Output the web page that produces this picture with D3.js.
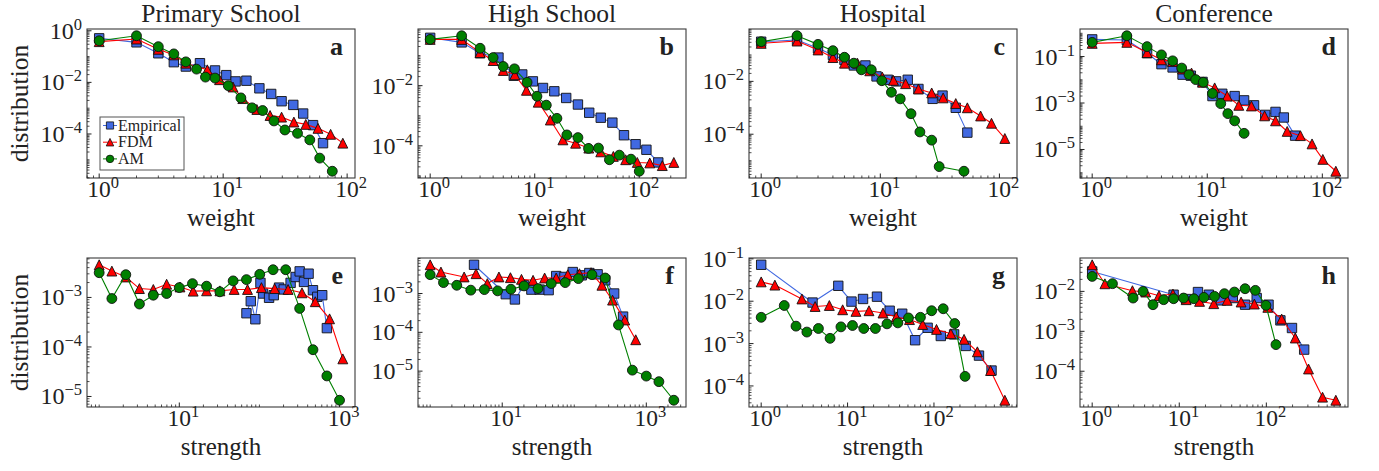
<!DOCTYPE html>
<html><head><meta charset="utf-8">
<script src="https://cdn.jsdelivr.net/npm/d3@7"></script>
<style>body{margin:0;background:#fff}svg{display:block}</style>
</head><body><svg id="chart" width="1379" height="471"></svg>
<script>
// ---------- data: [x, y] pairs per series ----------
const aEmp=[[1,0.51],[2,0.356],[3,0.134],[4,0.0605],[5,0.041],[6.5,0.0554],[8.6,0.029],[10.6,0.0191],[12.6,0.0109],[15.4,0.0116],[19.6,0.00588],[24.4,0.00356],[29.6,0.00186],[36.8,0.00134],[44.2,6.2e-4],[53.1,2.2e-4],[63.9,4.4e-5]];
const aFdm=[[1,0.378],[2,0.478],[3,0.191],[4,0.116],[5,0.0554],[7.45,0.0307],[9.35,0.0127],[12.0,0.00662],[14.4,0.00235],[18.7,8.9e-4],[23.9,5.2e-4],[29.6,4.5e-4],[37.2,2.9e-4],[46.4,2.35e-4],[58.2,1.65e-4],[73.6,9.7e-5],[92.3,4.4e-5]];
const aAm=[[1,0.41],[2,0.64],[3,0.242],[4,0.127],[5,0.0624],[6.1,0.0326],[7.2,0.016],[8.6,0.0147],[11.0,0.00745],[13.9,0.0025],[17.1,0.00103],[20.8,8.1e-4],[25.7,3.2e-4],[31.5,1.43e-4],[39.8,1.06e-4],[50,5.9e-5],[60.1,1.16e-5],[75.9,3.6e-6]];

const bEmp=[[1,0.39],[2,0.275],[3,0.119],[4.5,0.086],[6.3,0.0214],[7.6,0.0236],[9.6,0.0139],[12.0,0.00838],[15.4,0.0065],[20,0.0039],[25.9,0.00236],[33.2,0.00126],[42.8,8.6e-4],[55.3,5.9e-4],[71.4,2.25e-4],[92.3,1.13e-4],[117,7.4e-5],[152,2.8e-5]];
const bFdm=[[1,0.345],[2,0.345],[3,0.126],[4,0.0684],[5,0.032],[6.45,0.023],[8.33,0.007],[10.8,0.00282],[14.1,7.2e-4],[18.6,1.58e-4],[24.6,1.22e-4],[32.9,8.4e-5],[42.8,6.3e-5],[56.5,4.45e-5],[74.1,3.45e-5],[95.7,2.8e-5],[126,2.7e-5],[166,2.2e-5],[214,2.8e-5]];
const bAm=[[1,0.345],[2,0.456],[3,0.175],[4,0.086],[5,0.0434],[6.4,0.0363],[8.45,0.0129],[10.5,0.00445],[12.9,0.00225],[16.3,8.2e-4],[20.3,2.3e-4],[25.9,1.88e-4],[32.7,8.2e-5],[40.7,8.4e-5],[51.8,3.45e-5],[64.5,4.9e-5],[83.3,3.6e-5],[100,1.43e-5]];

const cEmp=[[1,0.316],[2,0.365],[3,0.178],[4,0.1],[5,0.065],[6,0.04],[7.5,0.04],[9.3,0.0154],[11.6,0.0115],[13.6,0.01],[17,0.0115],[20.9,0.00516],[27.5,0.00218],[33.3,0.0029],[43,0.001],[53.8,1.15e-4]];
const cFdm=[[1,0.274],[2,0.335],[3,0.154],[4,0.0794],[5,0.0487],[6.43,0.0487],[8.15,0.0251],[10.4,0.0145],[12.9,0.0109],[16.3,0.00818],[20.9,0.00516],[27,0.00365],[33.7,0.00237],[43,0.00145],[53.8,0.001],[69.5,4.9e-4],[85.8,2.6e-4],[111,6.9e-5]];
const cAm=[[1,0.316],[2,0.531],[3,0.251],[4,0.145],[5,0.0818],[6,0.0487],[6.94,0.0274],[8.4,0.0274],[10.3,0.0106],[12.4,0.00387],[14.7,0.00218],[18.1,5.96e-4],[21.5,1.22e-4],[27,5.96e-5],[31.2,5.96e-6],[50.4,3.98e-6]];

const dEmp=[[1,0.547],[2,0.512],[3,0.139],[4,0.047],[5,0.034],[6.1,0.0166],[7.2,0.015],[9.1,0.0081],[11.1,0.00199],[13.5,0.0025],[17.3,0.00199],[20.9,0.0013],[25.5,7.96e-4],[31.9,3.08e-4],[39.2,4.14e-4],[46.3,2.38e-4],[58,3.94e-5]];
const dFdm=[[1,0.369],[2,0.407],[3,0.148],[4,0.0722],[5,0.0612],[6.1,0.0289],[7.3,0.0195],[9.1,0.00783],[11.6,0.00449],[14.9,0.00199],[18.8,7.96e-4],[24.2,7.45e-4],[31.5,2.8e-4],[39.2,1.71e-4],[49.5,6.0e-5],[64.5,3.94e-5],[81.4,1.74e-5],[101,3.75e-6],[131,1.16e-6]];
const dAm=[[1,0.407],[2,0.783],[3,0.267],[4,0.118],[5,0.0654],[6,0.0319],[6.94,0.0166],[7.93,0.0102],[9.23,0.00783],[11.1,0.00258],[13.1,9.4e-4],[15.1,3.5e-4],[17.3,1.71e-4],[20.9,4.96e-5]];

const eEmp=[[68.9,4.8e-4],[78,8.4e-4],[89,3.63e-4],[103,0.00197],[111,0.0012],[132,9.85e-4],[151,0.00111],[176,0.00158],[201,0.00145],[245,0.00197],[283,0.00259],[318,0.00336],[360,0.00206],[411,0.00302],[466,0.0014],[527,0.00103],[608,0.00111],[695,2.4e-4]];
const eFdm=[[1,0.00457],[1.44,0.00341],[2.15,0.00259],[3.18,0.00151],[4.74,0.00145],[6.95,0.00185],[10.2,0.00163],[14.9,0.00134],[21.9,0.00136],[32.1,0.00136],[48.4,0.00145],[71,0.00145],[106,0.00158],[155,0.00151],[228,0.00145],[340,0.00124],[498,8.2e-4],[751,3.7e-4],[1099,5.75e-5]];
const eAm=[[1,0.00316],[1.44,9.5e-4],[2.15,0.00288],[3.18,7.36e-4],[4.74,0.00111],[6.95,0.0012],[10,0.00158],[14.6,0.0019],[21.9,0.00169],[32.1,0.0013],[47,0.00216],[68.9,0.00229],[101,0.00293],[148,0.00363],[213,0.00363],[318,6.0e-4],[466,8.8e-5],[695,2.6e-5],[1000,8.4e-6]];

const fEmp=[[4.06,0.0055],[11.2,9.6e-4],[15,7.03e-4],[20.1,0.00163],[25.4,0.00126],[33.1,0.00126],[44.1,0.00122],[56.1,0.00282],[73.1,0.00267],[95.3,0.00357],[127,0.00294],[162,0.00337],[211,0.00312],[269,0.00219],[358,0.001],[476,2.54e-4]];
const fFdm=[[1,0.0055],[1.41,0.00357],[2.96,0.00267],[4.33,0.00324],[6.21,0.0018],[9,0.00267],[13,0.00256],[18.5,0.00232],[26.8,0.00219],[38.8,0.00251],[56.1,0.00251],[81.3,0.00305],[118,0.00324],[171,0.00344],[242,0.00163],[340,6.76e-4],[502,2.08e-4],[713,6.44e-5]];
const fAm=[[1,0.00306],[1.53,0.00191],[2.34,0.00163],[3.66,0.00122],[5.65,0.00126],[8.63,0.00117],[13.2,0.00129],[20.1,0.00157],[31.4,0.00134],[47.9,0.0018],[74.8,0.00191],[114,0.00242],[176,0.00306],[269,0.00251],[411,1.55e-4],[641,1.06e-5],[1000,7.45e-6],[1496,5.35e-6],[2410,1.78e-6]];

const gEmp=[[1,0.0725],[3.93,0.0093],[7.81,0.0231],[11.1,0.0098],[15.1,0.0113],[21.9,0.0128],[30.7,0.00596],[42.9,0.00507],[60.5,0.0012],[84.5,0.00236],[120,0.00151],[171,0.00165],[233,8.8e-4],[332,5.2e-4],[464,2.31e-4]];
const gFdm=[[1,0.0286],[1.44,0.024],[2.96,0.0113],[4.21,0.0075],[6.15,0.00792],[8.77,0.00628],[12.5,0.00575],[17.7,0.00596],[25.7,0.00526],[36.6,0.00425],[52.1,0.00368],[74.1,0.00282],[107,0.00216],[157,0.00171],[223,0.00126],[318,6.4e-4],[452,2.31e-4],[661,4.6e-5]];
const gAm=[[1,0.00417],[1.85,0.00792],[2.53,0.00258],[3.38,0.00187],[4.6,0.00227],[6.27,0.00133],[8.38,0.00248],[11.4,0.00267],[15.4,0.00227],[21,0.00227],[28.6,0.00292],[38.2,0.00308],[50.7,0.00403],[69.7,0.00417],[94,0.00596],[128,0.00664],[174,0.00297],[229,1.68e-4]];

const hEmp=[[1,0.0316],[8.61,0.00826],[12,0.00643],[16.4,0.00962],[21.9,0.00826],[30.3,0.00596],[41.2,0.00681],[57,0.00464],[77.5,0.00681],[106,0.00464],[145,0.00188],[197,0.00121],[272,3.48e-4]];
const hFdm=[[1,0.0464],[1.4,0.0155],[2.9,0.0104],[4.12,0.00962],[5.85,0.0078],[8.46,0.00858],[12,0.0062],[17.1,0.00562],[24.9,0.00492],[35.5,0.00596],[51.3,0.00541],[72.9,0.00482],[104,0.00398],[150,0.00203],[215,6.8e-4],[305,1.14e-4],[442,2.24e-5],[628,1.88e-5]];
const hAm=[[1,0.0237],[1.71,0.0156],[2.95,0.00681],[3.84,0.01],[4.99,0.00464],[6.62,0.0062],[8.61,0.00656],[11.2,0.00681],[14.7,0.00656],[19.2,0.00708],[25.4,0.0075],[33,0.00875],[43,0.00962],[57,0.01166],[74.8,0.0106],[99,0.00447],[129,4.64e-4]];

// ---------- categories / labels / ticks ----------
const titles=["Primary School","High School","Hospital","Conference"];
const panelLetters=["a","b","c","d","e","f","g","h"];
const seriesNames=["Empirical","FDM","AM"];
const rowXLabels=["weight","strength"];
const yLabel="distribution";
const xTickExpTop=[0,1,2];
const xTickExpE=[1,3], xTickExpF=[1,3], xTickExpG=[0,1,2], xTickExpH=[0,1,2];
const yTickExpA=[0,-2,-4], yTickExpB=[-2,-4], yTickExpC=[-2,-4], yTickExpD=[-1,-3,-5];
const yTickExpE=[-3,-4,-5], yTickExpF=[-3,-4,-5], yTickExpG=[-1,-2,-3,-4], yTickExpH=[-2,-3,-4];

// ---------- panel table built from the arrays ----------
const panels=[
  {series:[aEmp,aFdm,aAm], xt:xTickExpTop, yt:yTickExpA},
  {series:[bEmp,bFdm,bAm], xt:xTickExpTop, yt:yTickExpB},
  {series:[cEmp,cFdm,cAm], xt:xTickExpTop, yt:yTickExpC},
  {series:[dEmp,dFdm,dAm], xt:xTickExpTop, yt:yTickExpD},
  {series:[eEmp,eFdm,eAm], xt:xTickExpE, yt:yTickExpE},
  {series:[fEmp,fFdm,fAm], xt:xTickExpF, yt:yTickExpF},
  {series:[gEmp,gFdm,gAm], xt:xTickExpG, yt:yTickExpG},
  {series:[hEmp,hFdm,hAm], xt:xTickExpH, yt:yTickExpH}
];

// ---------- layout / style ----------
const FONT="'Liberation Serif','Times New Roman',serif";
const W=268,H=149,lefts=[87,418,749,1080],tops=[29,258];
const styles=[
  {fill:"#4169e1",line:"#4169e1",shape:"square"},
  {fill:"#ff0000",line:"#ff0000",shape:"triangle"},
  {fill:"#008000",line:"#008000",shape:"circle"}
];
const svg=d3.select("#chart");

function marker(shape,s){
  if(shape==="square") return `M${-s},${-s}H${s}V${s}H${-s}Z`;
  if(shape==="triangle") return `M0,${-s*1.05}L${s*1.05},${s*1.05}L${-s*1.05},${s*1.05}Z`;
  return d3.symbol(d3.symbolCircle, Math.PI*s*s*1.1)();
}
function sup(exp){ return (exp<0?"\u2212":"")+Math.abs(exp); }
function allTicks(dom){
  const out=[];
  for(let k=Math.floor(Math.log10(dom[0]));k<=Math.ceil(Math.log10(dom[1]));k++)
    for(let m=1;m<=9;m++){const v=m*Math.pow(10,k); if(v>=dom[0]&&v<=dom[1]) out.push({v,m,k});}
  return out;
}
function paddedDomain(vals){
  const e=d3.extent(vals,v=>Math.log10(v)); const r=e[1]-e[0];
  return [Math.pow(10,e[0]-0.05*r),Math.pow(10,e[1]+0.05*r)];
}

panels.forEach((p,i)=>{
  const col=i%4,row=Math.floor(i/4);
  const L=lefts[col],T=tops[row];
  const g=svg.append("g");
  const x=d3.scaleLog().domain(paddedDomain(p.series.flat().map(d=>d[0]))).range([L,L+W]);
  const y=d3.scaleLog().domain(paddedDomain(p.series.flat().map(d=>d[1]))).range([T+H,T]);

  g.append("rect").attr("x",L).attr("y",T).attr("width",W).attr("height",H)
    .attr("fill","#fff").attr("stroke","#3a3a3a").attr("stroke-width",1.1);

  // x ticks (inward, bottom)
  allTicks(x.domain()).forEach(t=>{
    const major=(t.m===1&&p.xt.includes(t.k));
    const px=x(t.v);
    g.append("line").attr("x1",px).attr("x2",px).attr("y1",T+H).attr("y2",T+H-(major?4.5:2.5))
      .attr("stroke","#222").attr("stroke-width",major?1:0.8);
  });
  p.xt.forEach(k=>{
    const tx=g.append("text").attr("x",x(Math.pow(10,k))+4).attr("y",T+H+19)
      .attr("text-anchor","middle").attr("font-family",FONT).attr("font-size",23.5).attr("fill","#222");
    tx.append("tspan").text("10");
    tx.append("tspan").attr("dy",-9).attr("font-size",16.5).text(sup(k));
  });
  // y ticks (inward, left)
  allTicks(y.domain()).forEach(t=>{
    const major=(t.m===1&&p.yt.includes(t.k));
    const py=y(t.v);
    g.append("line").attr("y1",py).attr("y2",py).attr("x1",L).attr("x2",L+(major?4.5:2.5))
      .attr("stroke","#222").attr("stroke-width",major?1:0.8);
  });
  p.yt.forEach(k=>{
    const ty=g.append("text").attr("x",L-5).attr("y",y(Math.pow(10,k))+8)
      .attr("text-anchor","end").attr("font-family",FONT).attr("font-size",24).attr("fill","#222");
    ty.append("tspan").text("10");
    ty.append("tspan").attr("dy",-9).attr("font-size",16.5).text(sup(k));
  });

  // series: line then markers, in order
  p.series.forEach((s,si)=>{
    const st=styles[si];
    g.append("path").datum(s).attr("fill","none").attr("stroke",st.line).attr("stroke-width",1.1)
      .attr("d",d3.line().x(d=>x(d[0])).y(d=>y(d[1])));
    g.selectAll(null).data(s).enter().append("path")
      .attr("transform",d=>`translate(${x(d[0])},${y(d[1])})`)
      .attr("d",marker(st.shape,4.7)).attr("fill",st.fill)
      .attr("stroke","#111").attr("stroke-width",0.9);
  });

  // panel letter
  g.append("text").attr("x",L+W-12).attr("y",T+26).attr("text-anchor","end")
    .attr("font-family",FONT).attr("font-weight","bold").attr("font-size",26).attr("fill","#222")
    .text(panelLetters[i]);

  // titles and axis labels
  if(row===0) g.append("text").attr("x",L+W/2).attr("y",21.5).attr("text-anchor","middle")
    .attr("font-family",FONT).attr("font-size",25.5).attr("fill","#222").text(titles[col]);
  g.append("text").attr("x",L+W/2).attr("y",T+H+47.5).attr("text-anchor","middle")
    .attr("font-family",FONT).attr("font-size",25).attr("fill","#222").text(rowXLabels[row]);
  if(col===0) g.append("text").attr("transform",`translate(28,${T+H/2}) rotate(-90)`)
    .attr("text-anchor","middle").attr("font-family",FONT).attr("font-size",25.5).attr("fill","#222").text(yLabel);

  // legend in panel a
  if(i===0){
    const lg=g.append("g");
    lg.append("rect").attr("x",100).attr("y",117).attr("width",84).attr("height",53)
      .attr("fill","#fff").attr("stroke","#555").attr("stroke-width",1);
    seriesNames.forEach((n,si)=>{
      const cy=125.5+si*16.7, st=styles[si];
      lg.append("line").attr("x1",103).attr("x2",117).attr("y1",cy).attr("y2",cy).attr("stroke",st.line).attr("stroke-width",1);
      lg.append("path").attr("transform",`translate(110,${cy})`).attr("d",marker(st.shape,3.6))
        .attr("fill",st.fill).attr("stroke","#111").attr("stroke-width",0.8);
      lg.append("text").attr("x",118).attr("y",cy+5).attr("font-family",FONT).attr("font-size",16)
        .attr("fill","#222").text(n);
    });
  }
});
</script></body></html>
